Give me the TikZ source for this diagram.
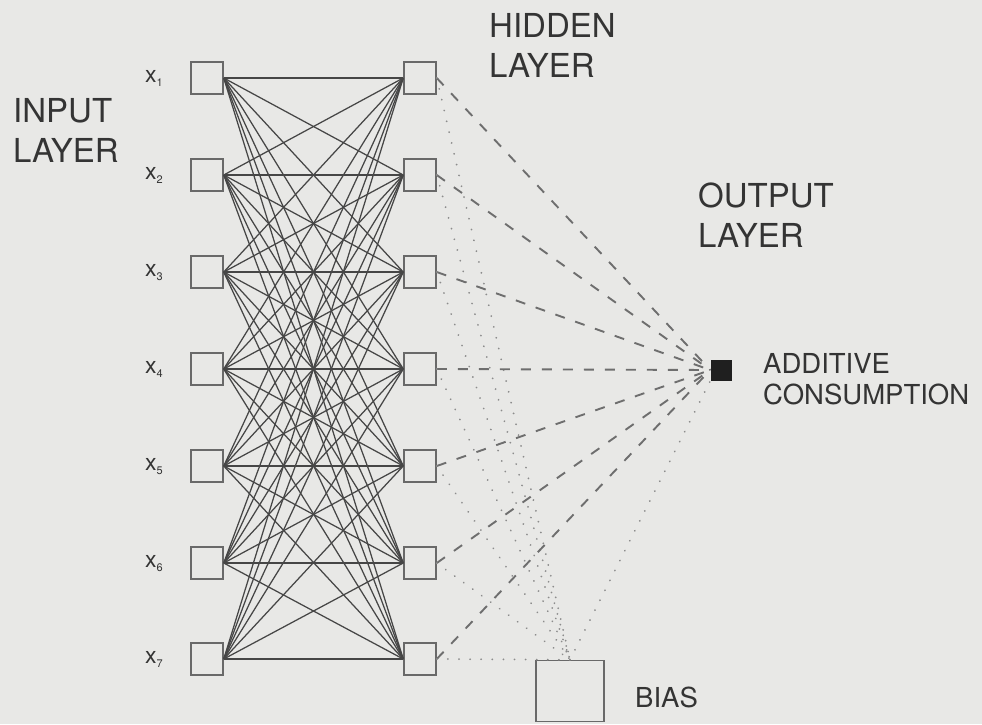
\documentclass[tikz,border=0pt]{standalone}
\usepackage{fontspec}
\setmainfont{TeX Gyre Heros}
\definecolor{paper}{RGB}{232,232,230}
\definecolor{ink}{RGB}{52,52,52}
\definecolor{boxline}{RGB}{105,105,105}
\definecolor{wirecol}{RGB}{70,70,70}
\definecolor{dashcol}{RGB}{110,110,110}
\definecolor{dotcol}{RGB}{140,140,140}
\newcommand{\lowidx}[1]{\raisebox{-4pt}{\fontsize{11}{11}\selectfont #1}}
\tikzset{
  unit/.style={draw=boxline, line width=1.5pt, minimum size=32pt, inner sep=0pt},
  wire/.style={draw=wirecol, line width=1.25pt},
  weightdash/.style={draw=dashcol, line width=1.9pt, dash pattern=on 10pt off 11pt},
  biasdot/.style={draw=dotcol, line width=1.9pt, line cap=round, dash pattern=on 0.1pt off 11pt},
  biglab/.style={text=ink, inner sep=0pt, align=left, anchor=north west,
    font=\fontsize{33}{40}\selectfont},
  smalllab/.style={text=ink, inner sep=0pt, align=left,
    font=\fontsize{27.5}{31}\selectfont},
  xlab/.style={text=ink, inner sep=0pt, anchor=base west,
    font=\fontsize{23}{23}\selectfont}
}
\begin{document}
\begin{tikzpicture}[x=1pt, y=-1pt]
  \useasboundingbox[fill=paper] (0,0) rectangle (982,724);

  % input and hidden units with their labels
  \foreach \i/\y in {1/78,2/175,3/272,4/369,5/466,6/563,7/659} {
    \node[unit] (in\i) at (207,\y) {};
    \node[unit] (hid\i) at (420,\y) {};
    \node[xlab] (xl\i) at (145,\y+4) {x\lowidx{\i}};
  }

  % output unit and bias unit
  \node[fill=black!88, minimum size=21pt, inner sep=0pt] (out) at (721,370) {};
  \node[draw=boxline, line width=1.5pt, minimum width=68pt, minimum height=61pt,
        inner sep=0pt] (bias) at (570,691) {};

  % full connections input -> hidden
  \foreach \i in {1,...,7} {
    \foreach \j in {1,...,7} {
      \draw[wire] (in\i.east) -- (hid\j.west);
    }
  }

  % hidden -> output (dashed) and hidden -> bias (dotted)
  \foreach \j in {1,...,7} {
    \draw[weightdash] (hid\j.east) -- (out.west);
    \draw[biasdot] (hid\j.east) -- (bias.north);
  }
  \draw[biasdot] (bias.north) -- (out.south west);

  % layer captions
  \node[biglab] (inputcap) at (13,98) {INPUT\\LAYER};
  \node[biglab] (hiddencap) at (489,13) {HIDDEN\\LAYER};
  \node[biglab] (outputcap) at (698,183) {OUTPUT\\LAYER};
  \node[smalllab, anchor=north west] (outname) at (763,353) {ADDITIVE\\CONSUMPTION};
  \node[smalllab, anchor=base west] (biasname) at (635,707) {BIAS};
\end{tikzpicture}
\end{document}
